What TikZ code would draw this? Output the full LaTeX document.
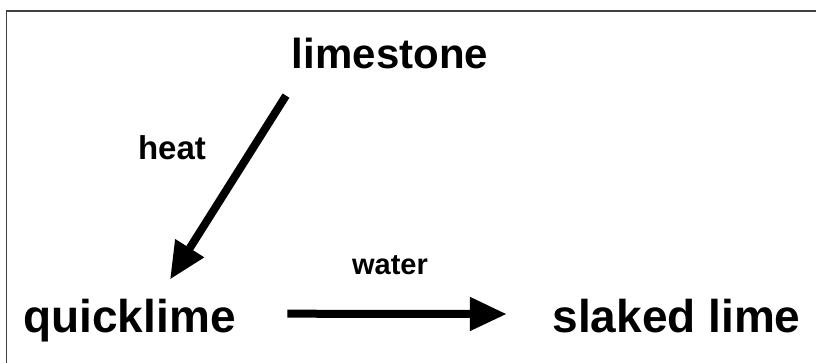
\documentclass[tikz,border=0pt]{standalone}
\usepackage{fontspec}
\setmainfont{Liberation Sans}
\usetikzlibrary{arrows.meta}

\begin{document}
\begin{tikzpicture}[x=1pt,y=1pt,
    big/.style={font=\fontsize{42}{48}\selectfont\bfseries,inner sep=0pt,anchor=base},
    bigger/.style={big,font=\fontsize{46}{52}\selectfont\bfseries},
    small/.style={font=\fontsize{29}{34}\selectfont\bfseries,inner sep=0pt},
    react/.style={line width=8pt,-{Triangle[length=37pt,width=32pt]}}]
    \useasboundingbox (0,0) rectangle (816,363);
    \draw[line width=1.5pt,black!75] (6.5,0) |- (816,352);
    \node[big]    (limestone)  at (390,294)           {limestone};
    \node[bigger] (quicklime)  at (129.5,30)          {quicklime};
    \node[bigger] (slaked)     at (676.5,30)          {slaked lime};
    \node[small,font=\fontsize{33}{38}\selectfont\bfseries] (heat) at (172,215) {heat};
    \node[small]  (water)      at (390,98)            {water};
    \draw[react] ([xshift=-104pt,yshift=-26pt]limestone.south) -- ([xshift=40.5pt,yshift=20pt]quicklime.north);
    \draw[react] ([xshift=51.5pt,yshift=7.4pt]quicklime.east) -- ([xshift=-45.5pt,yshift=2.5pt]slaked.west);
\end{tikzpicture}
\end{document}
